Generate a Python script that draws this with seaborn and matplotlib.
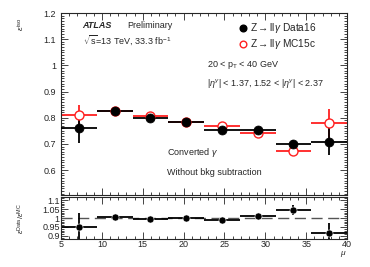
import numpy as np
import pandas as pd
import matplotlib
matplotlib.use("Agg")
import matplotlib.pyplot as plt
import seaborn as sns
from matplotlib.ticker import MultipleLocator

sns.set_style("ticks")
plt.rcParams['font.family'] = ['Liberation Sans', 'DejaVu Sans']
plt.rcParams['mathtext.fontset'] = 'custom'
plt.rcParams['mathtext.rm'] = 'Liberation Sans'
plt.rcParams['mathtext.it'] = 'Liberation Sans:italic'

bin_edges = [5, 9.375, 13.75, 18.125, 22.5, 26.875, 31.25, 35.625, 40]
data_eff = [0.762, 0.825, 0.800, 0.782, 0.755, 0.754, 0.700, 0.709]
data_err = [0.060, 0.008, 0.006, 0.005, 0.006, 0.007, 0.015, 0.050]
mc_eff = [0.810, 0.825, 0.805, 0.782, 0.767, 0.742, 0.672, 0.778]
mc_err = [0.040, 0.006, 0.005, 0.004, 0.006, 0.008, 0.020, 0.055]
ratio = [0.947, 1.003, 0.995, 0.999, 0.988, 1.010, 1.045, 0.915]
ratio_err = [0.080, 0.010, 0.008, 0.007, 0.009, 0.010, 0.030, 0.055]

edges = np.array(bin_edges)
centers = 0.5 * (edges[:-1] + edges[1:])
halfw = 0.5 * np.diff(edges)

fig = plt.figure(figsize=(3.7, 2.67), dpi=100)
ax = fig.add_axes([0.165, 0.270, 0.773, 0.681])
axr = fig.add_axes([0.165, 0.105, 0.773, 0.157])

df = pd.DataFrame({"mu": np.concatenate([centers, centers]),
                   "eff": np.concatenate([mc_eff, data_eff]),
                   "sample": ["MC"] * len(centers) + ["Data"] * len(centers)})

# error bars
ax.errorbar(centers, mc_eff, xerr=halfw, yerr=mc_err, fmt='none', ecolor='#ff2020', elinewidth=1.3, zorder=2)
ax.errorbar(centers, data_eff, xerr=halfw, yerr=data_err, fmt='none', ecolor='black', elinewidth=1.3, zorder=3)
sns.scatterplot(data=df[df["sample"] == "MC"], x="mu", y="eff", ax=ax, marker='o', s=42,
                facecolor='white', edgecolor='#ff2020', linewidth=1.0, zorder=4, legend=False)
sns.scatterplot(data=df[df["sample"] == "Data"], x="mu", y="eff", ax=ax, marker='o', s=42,
                color='black', edgecolor='black', zorder=5, legend=False)

ax.set_xlim(5, 40)
ax.set_ylim(0.505, 1.2)
ax.set_xlabel("")
ax.set_ylabel(r"$\varepsilon^{\rm iso}$", fontsize=6)
ax.yaxis.set_label_coords(-0.12, 0.94)
ax.set_yticks([0.6, 0.7, 0.8, 0.9, 1.0, 1.1, 1.2])
ax.set_yticklabels(["0.6", "0.7", "0.8", "0.9", "1", "1.1", "1.2"])
ax.yaxis.set_minor_locator(MultipleLocator(0.01))
ax.xaxis.set_major_locator(MultipleLocator(5))
ax.xaxis.set_minor_locator(MultipleLocator(1))
ax.tick_params(axis='x', labelbottom=False)
for a in (ax, axr):
    a.tick_params(which='both', direction='in', top=True, right=True, labelsize=6.5, width=0.6)
    a.tick_params(which='major', length=5)
    a.tick_params(which='minor', length=2.5)
    for s in a.spines.values():
        s.set_linewidth(0.8)

# legend (manual)
lx = 0.66
ax.errorbar([0.637], [0.918], xerr=[0.013], fmt='o', color='black', ms=4.8, transform=ax.transAxes, clip_on=False)
ax.errorbar([0.637], [0.828], xerr=[0.013], fmt='o', color='#ff2020', mfc='white', ms=4.8,
            transform=ax.transAxes, clip_on=False)
ax.text(lx, 0.918, r"Z$\rightarrow$ll$\gamma$ Data16", transform=ax.transAxes, fontsize=7.3, va='center')
ax.text(lx, 0.828, r"Z$\rightarrow$ll$\gamma$ MC15c", transform=ax.transAxes, fontsize=7.3, va='center')

ax.text(0.075, 0.93, "ATLAS", transform=ax.transAxes, fontsize=6.5, weight='bold', style='italic', va='center')
ax.text(0.23, 0.93, "Preliminary", transform=ax.transAxes, fontsize=6.5, va='center')
ax.text(0.075, 0.85, r"$\sqrt{\rm s}$=13 TeV, 33.3 fb$^{-1}$", transform=ax.transAxes, fontsize=6.5, va='center')
ax.text(0.51, 0.715, r"20 < p$_{\rm T}$ < 40 GeV", transform=ax.transAxes, fontsize=6.5, va='center')
ax.text(0.51, 0.61, r"|$\eta^{\gamma}$| < 1.37, 1.52 < |$\eta^{\gamma}$| < 2.37", transform=ax.transAxes,
        fontsize=6.5, va='center')
ax.text(0.37, 0.235, r"Converted $\gamma$", transform=ax.transAxes, fontsize=6.5, va='center')
ax.text(0.37, 0.125, "Without bkg subtraction", transform=ax.transAxes, fontsize=6.5, va='center')

# ratio panel
axr.axhline(1.0, color='#555555', linestyle=(0, (8, 4)), linewidth=1.0, zorder=1)
axr.errorbar(centers, ratio, xerr=halfw, yerr=ratio_err, fmt='none', ecolor='black', elinewidth=1.3, zorder=2)
sns.scatterplot(x=centers, y=ratio, ax=axr, color='black', s=26, zorder=3, legend=False)
axr.set_xlim(5, 40)
axr.set_ylim(0.883, 1.117)
axr.set_yticks([0.9, 0.95, 1.0, 1.05, 1.1])
axr.set_yticklabels(["0.9", "0.95", "1", "1.05", "1.1"])
axr.yaxis.set_minor_locator(MultipleLocator(0.01))
axr.xaxis.set_major_locator(MultipleLocator(5))
axr.xaxis.set_minor_locator(MultipleLocator(1))
axr.tick_params(axis='x', pad=1)
axr.tick_params(axis='y', pad=1, labelsize=6.5)
axr.set_ylabel(r"$\varepsilon^{\rm Data}/\varepsilon^{\rm MC}$", fontsize=5.5)
axr.yaxis.set_label_coords(-0.12, 0.5)
axr.set_xlabel(r"$\mu$", fontsize=6, loc='right', labelpad=0)

fig.savefig("out.png", dpi=100)
